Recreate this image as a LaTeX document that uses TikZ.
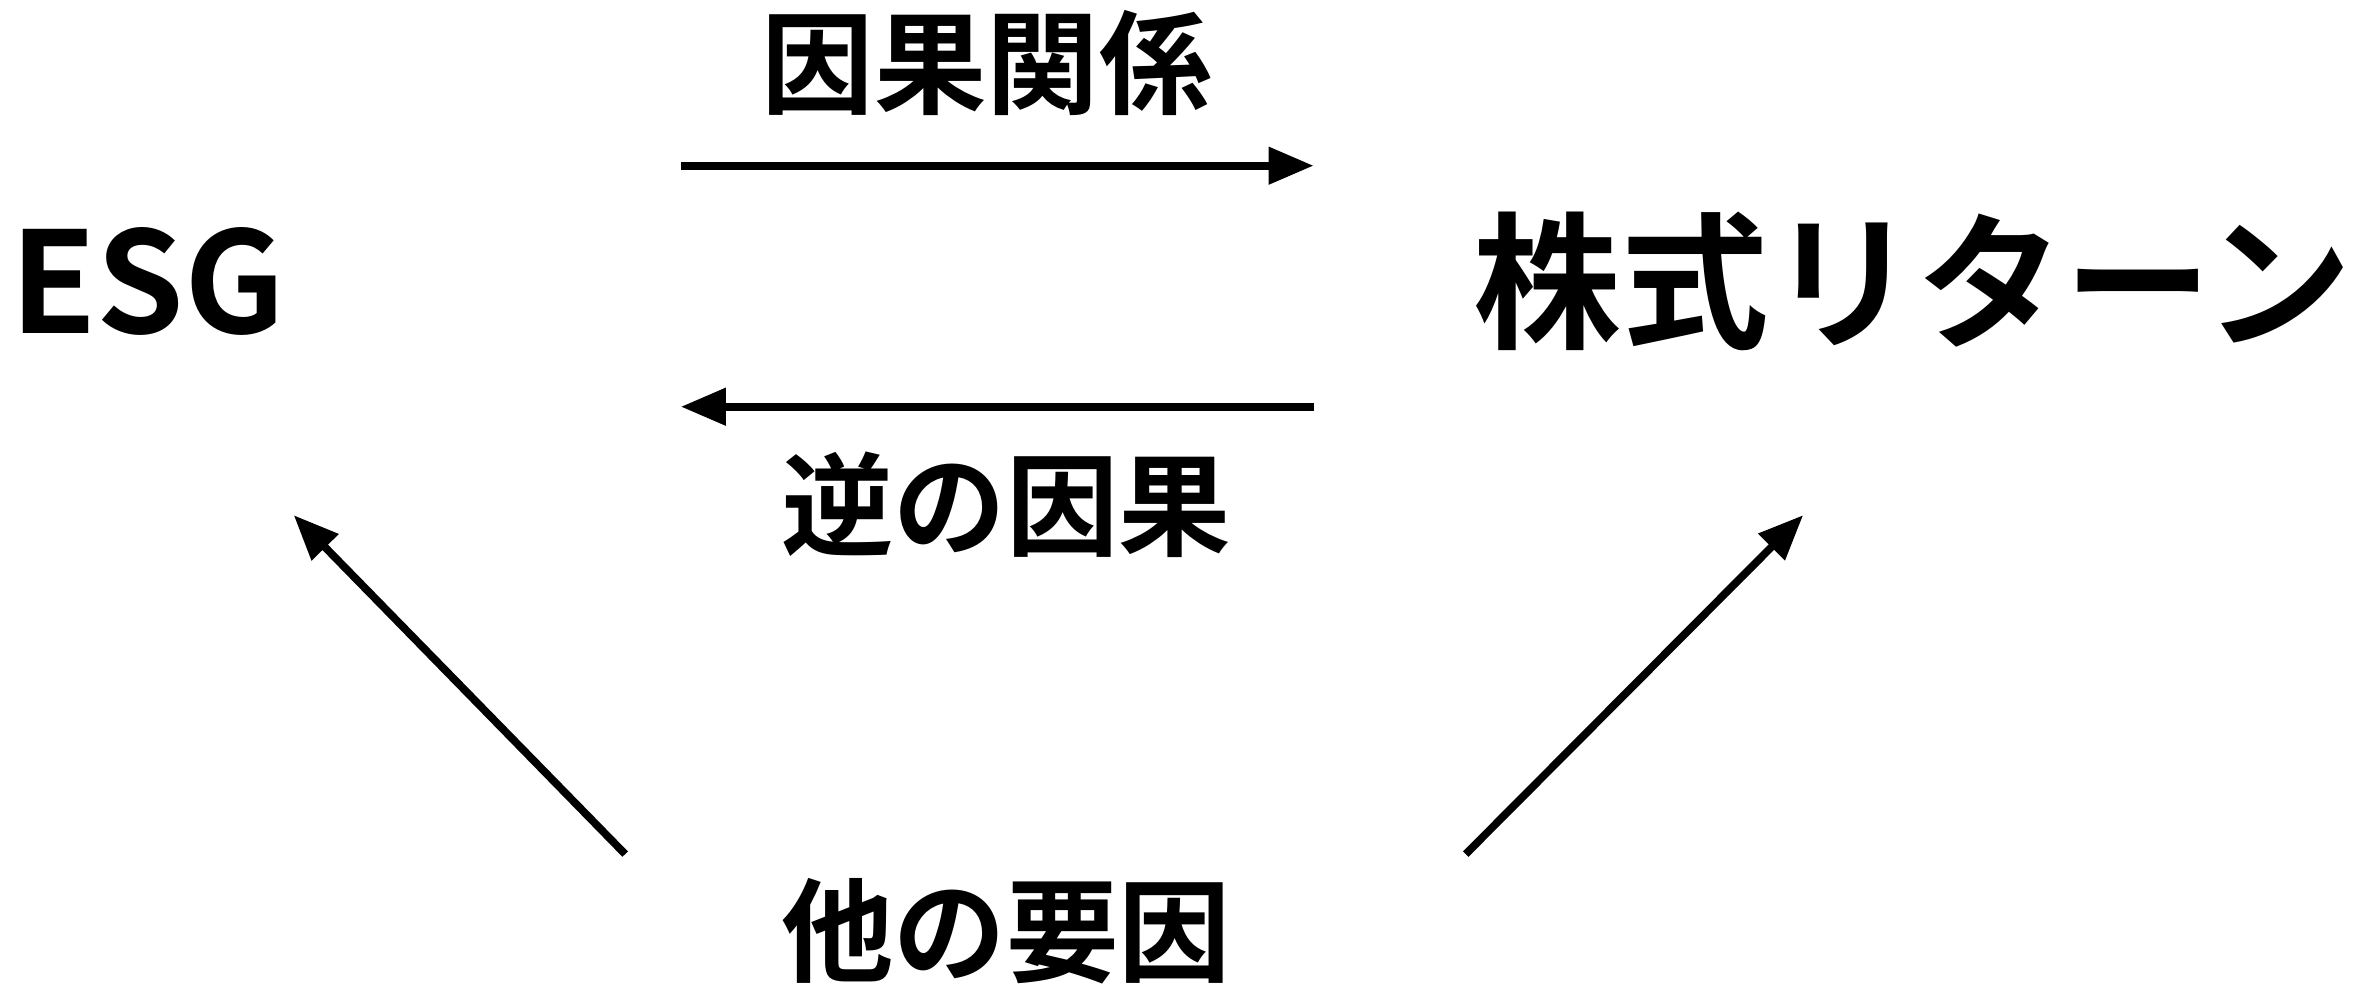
\documentclass[tikz,border=0pt]{standalone}
\usepackage{fontspec}
\setmainfont{Noto Sans CJK JP Bold}
\usetikzlibrary{arrows.meta}
\begin{document}
\begin{tikzpicture}[x=0.01506cm,y=-0.01506cm]
  \tikzstyle{term}=[inner sep=0pt, font=\fontsize{40}{40}\selectfont];
  \tikzstyle{lbl}=[inner sep=0pt, font=\fontsize{32}{32}\selectfont];
  \tikzstyle{link}=[line width=2.2pt, -{Triangle[length=0.45cm,width=0.36cm]}];

  \useasboundingbox (0,0) rectangle (1568,653);

  \node[term] (esg) at (98,187) {ESG};
  \node[term, font=\fontsize{42}{42}\selectfont] (ret) at (1270,187) {株式リターン};
  \node[lbl] (cause) at (655,42) {因果関係};
  \node[lbl] (rev) at (668,335) {逆の因果};
  \node[lbl] (other) at (668,618) {他の要因};

  \coordinate (t1) at (452,110);
  \coordinate (t2) at (872,110);
  \coordinate (b1) at (872,270);
  \coordinate (b2) at (452,270);
  \coordinate (l1) at (415,567);
  \coordinate (l2) at (195,342);
  \coordinate (r1) at (973,567);
  \coordinate (r2) at (1197,342);

  \draw[link] (t1) -- (t2);
  \draw[link] (b1) -- (b2);
  \draw[link] (l1) -- (l2);
  \draw[link] (r1) -- (r2);
\end{tikzpicture}
\end{document}
